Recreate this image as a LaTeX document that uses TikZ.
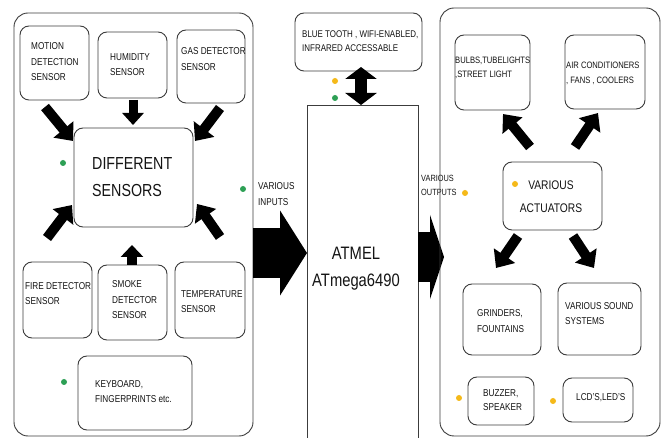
\documentclass[tikz,border=0pt]{standalone}
\usepackage{fontspec}
\setmainfont{Liberation Sans}[FakeStretch=0.82]
\usetikzlibrary{arrows.meta,fit}
\definecolor{dotgreen}{RGB}{45,160,85}
\definecolor{dotyellow}{RGB}{245,185,25}
\definecolor{edgecol}{RGB}{60,60,60}
\definecolor{txtcol}{RGB}{20,20,20}
\tikzset{
  box/.style={draw=edgecol, line width=0.9pt, rounded corners=9pt, inner sep=0pt},
  panel/.style={box, rounded corners=14pt},
  txt/.style={anchor=west, align=left, inner sep=0pt, text=txtcol, font=\fontsize{10}{15.5}\selectfont},
  bigtxt/.style={txt, font=\fontsize{17.4}{27}\selectfont},
  blk/.style={line width=10pt, -{Triangle[length=15pt,width=25pt]}},
  dotg/.style={circle, inner sep=0pt, minimum size=6pt, fill=dotgreen},
  doty/.style={circle, inner sep=0pt, minimum size=6pt, fill=dotyellow},
}
\begin{document}
\begin{tikzpicture}[x=1pt,y=-1pt]
\clip (0,0) rectangle (662,438);
\fill[white] (0,0) rectangle (662,438);

% ---------- left panel ----------
\node[panel, fit={(14,13) (253,436)}] (leftpanel) {};
\node[box, fit={(20,26) (89,100)}] (motion) {};
\node[box, fit={(98,32) (167,98)}] (humid) {};
\node[box, fit={(177,30) (245,103)}] (gas) {};
\node[box, fit={(74,128) (193,227)}] (diff) {};
\node[box, fit={(23,262) (92,338)}] (fire) {};
\node[box, fit={(98,265) (167,340)}] (smoke) {};
\node[box, fit={(175,262) (245,338)}] (temp) {};
\node[box, fit={(78,356) (192,430)}] (keyb) {};

\node[txt] (tmotion) at (31,62) {MOTION\\DETECTION\\SENSOR};
\node[txt] (thumid) at (110,64.5) {HUMIDITY\\SENSOR};
\node[txt] (tgas) at (181,59) {GAS DETECTOR\\SENSOR};
\node[bigtxt] (tdiff) at (92,177) {DIFFERENT\\SENSORS};
\node[txt] (tfire) at (25,293.5) {FIRE DETECTOR\\SENSOR};
\node[txt] (tsmoke) at (112,300) {SMOKE\\DETECTOR\\SENSOR};
\node[txt] (ttemp) at (181,301.5) {TEMPERATURE\\SENSOR};
\node[txt] (tkeyb) at (95,391.5) {KEYBOARD,\\FINGERPRINTS etc.};

\node[dotg] (g1) at (63,163) {};
\node[dotg] (g2) at (64,382) {};

\coordinate (a1s) at (45,107);  \coordinate (a1e) at (73,141);
\coordinate (a2s) at (133,100); \coordinate (a2e) at (133,125);
\coordinate (a3s) at (220,108); \coordinate (a3e) at (195,141);
\coordinate (a4s) at (47,238);  \coordinate (a4e) at (72,205);
\coordinate (a5s) at (132,265); \coordinate (a5e) at (132,245);
\coordinate (a6s) at (220,237); \coordinate (a6e) at (197,204);
\draw[blk] (a1s) -- (a1e);
\draw[blk, line width=9pt, -{Triangle[length=12pt,width=21pt]}] (a2s) -- (a2e);
\draw[blk] (a3s) -- (a3e);
\draw[blk] (a4s) -- (a4e);
\draw[blk, line width=10pt, -{Triangle[length=12pt,width=22pt]}] (a5s) -- (a5e);
\draw[blk] (a6s) -- (a6e);

% ---------- middle ----------
\node[box, fit={(295,13) (422,71)}] (bt) {};
\node[txt, font=\fontsize{9.7}{14}\selectfont] (tbt) at (302,41) {BLUE TOOTH , WIFI-ENABLED,\\INFRARED ACCESSABLE};
\node[draw=edgecol, line width=0.9pt, inner sep=0pt, fit={(307,105) (418,460)}] (atmel) {};
\node[txt, anchor=center, align=center, font=\fontsize{18}{27}\selectfont] (tatmel) at (356,269) {ATMEL\\ATmega6490};

\node[doty] (y1) at (335,81) {};
\node[dotg] (g3) at (335,98) {};
\coordinate (bts) at (361,67); \coordinate (bte) at (361,105);
\draw[line width=12pt, {Triangle[length=12pt,width=31pt]}-{Triangle[length=12pt,width=31pt]}] (bts) -- (bte);

\node[dotg] (g4) at (243,189) {};
\node[txt] (tin) at (258,194) {VARIOUS\\INPUTS};
\coordinate (ins) at (253,253); \coordinate (ine) at (307,253);
\draw[line width=50pt, -{Triangle[length=27pt,width=84pt]}] (ins) -- (ine);

\node[txt, font=\fontsize{9}{14}\selectfont] (tout) at (421,185) {VARIOUS\\OUTPUTS};
\node[doty] (y2) at (465,193) {};
\coordinate (outs) at (418,257); \coordinate (oute) at (444,257);
\draw[line width=50pt, -{Triangle[length=14pt,width=84pt]}] (outs) -- (oute);

% ---------- right panel ----------
\node[panel, fit={(440,8) (660,436)}] (rightpanel) {};
\node[box, fit={(455,35) (530,110)}] (bulbs) {};
\node[box, fit={(565,35) (645,109)}] (ac) {};
\node[box, fit={(503,162) (602,230)}] (act) {};
\node[box, fit={(463,284) (541,355)}] (grind) {};
\node[box, fit={(558,283) (641,355)}] (sound) {};
\node[box, fit={(468,377) (534,425)}] (buzz) {};
\node[box, fit={(563,378) (633,422)}] (lcd) {};

\node[txt, font=\fontsize{9.3}{14}\selectfont] (tbulbs) at (455,68) {BULBS,TUBELIGHTS\\,STREET LIGHT};
\node[txt, font=\fontsize{9.3}{15}\selectfont] (tac) at (566,73.5) {AIR CONDITIONERS\\, FANS , COOLERS};
\node[txt, anchor=center, align=center, font=\fontsize{12.5}{23}\selectfont] (tact) at (551,197) {VARIOUS\\ACTUATORS};
\node[txt] (tgrind) at (477,321) {GRINDERS,\\FOUNTAINS};
\node[txt] (tsound) at (565,313.5) {VARIOUS SOUND\\SYSTEMS};
\node[txt, font=\fontsize{10}{14}\selectfont] (tbuzz) at (483,400) {BUZZER,\\SPEAKER};
\node[txt] (tlcd) at (576,398) {LCD'S,LED'S};

\node[doty] (y3) at (515,184) {};
\node[doty] (y4) at (459,398) {};
\node[doty] (y5) at (553,401) {};

\coordinate (b1s) at (530,147); \coordinate (b1e) at (503,114);
\coordinate (b2s) at (575,147); \coordinate (b2e) at (598,113);
\coordinate (b3s) at (518,236); \coordinate (b3e) at (496,268);
\coordinate (b4s) at (573,236); \coordinate (b4e) at (594,268);
\draw[blk] (b1s) -- (b1e);
\draw[blk] (b2s) -- (b2e);
\draw[blk] (b3s) -- (b3e);
\draw[blk] (b4s) -- (b4e);
\end{tikzpicture}
\end{document}
